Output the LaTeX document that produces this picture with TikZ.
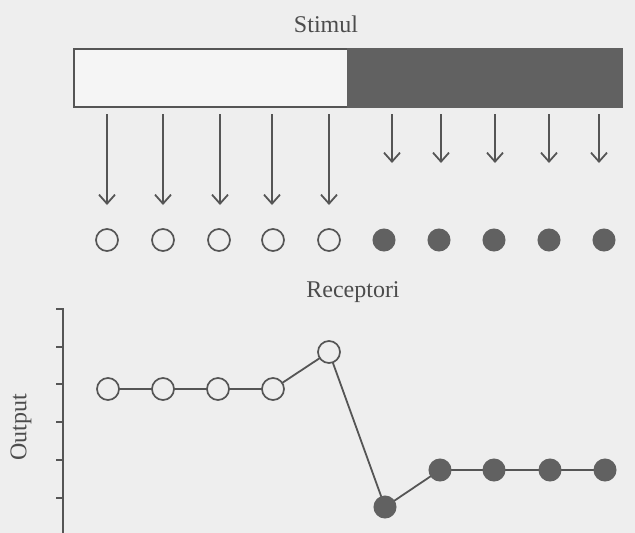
\documentclass[tikz,border=0pt]{standalone}
\usepackage{fontspec}
\setmainfont{Liberation Serif}
\usetikzlibrary{arrows.meta}
\definecolor{paper}{HTML}{EEEEEE}
\definecolor{ink}{HTML}{555555}
\definecolor{darkfill}{HTML}{616161}
\definecolor{lightfill}{HTML}{F5F5F5}
\tikzset{
  lbl/.style={text=ink!90!black, font=\fontsize{24}{28}\selectfont, inner sep=0pt},
  band/.style={draw=ink, line width=1.8pt, minimum width=274pt, minimum height=58pt, inner sep=0pt},
  openrec/.style={circle, draw=ink, fill=paper, line width=1.7pt, minimum size=22pt, inner sep=0pt},
  fullrec/.style={circle, draw=darkfill, fill=darkfill, line width=1pt, minimum size=22pt, inner sep=0pt},
  ray/.style={draw=ink, line width=1.8pt, -{Straight Barb[length=9pt,width=16pt,line width=1.8pt]}},
  trace/.style={draw=ink, line width=1.8pt},
  axisline/.style={draw=ink, line width=2pt},
}
\begin{document}
\begin{tikzpicture}[x=1pt, y=-1pt]
  % canvas
  \fill[paper] (0,0) rectangle (635,533);
  \useasboundingbox (0,0) rectangle (635,533);

  % stimulus bar
  \node[lbl] (stim) at (326,24) {Stimul};
  \node[band, fill=lightfill] (bright) at (211,78) {};
  \node[band, fill=darkfill, draw=darkfill] (dark) at (485,78) {};

  % receptor row
  \foreach \i/\x in {1/107,2/163,3/219,4/273,5/329}
    \node[openrec] (r\i) at (\x,240) {};
  \foreach \i/\x in {6/384,7/439,8/494,9/549,10/604}
    \node[fullrec] (r\i) at (\x,240) {};

  % rays from the bright half reach down to the receptors
  \foreach \i/\x in {1/107,2/163,3/220,4/272,5/329} {
    \coordinate (s\i) at (\x,114);
    \coordinate (e\i) at (\x,205);
    \draw[ray] (s\i) -- (e\i);
  }
  % shorter rays below the dark half
  \foreach \i/\x in {6/392,7/441,8/495,9/549,10/599} {
    \coordinate (s\i) at (\x,114);
    \coordinate (e\i) at (\x,163);
    \draw[ray] (s\i) -- (e\i);
  }

  \node[lbl] (rec) at (353,292) {Receptori};

  % output axis with ticks
  \coordinate (ax0) at (63,308);
  \coordinate (ax1) at (63,533);
  \draw[axisline] (ax0) -- (ax1);
  \foreach \k/\y in {1/309,2/347,3/384,4/422,5/460,6/498} {
    \coordinate (t\k) at (56,\y);
    \coordinate (u\k) at (63,\y);
    \draw[axisline, line width=1.5pt] (t\k) -- (u\k);
  }
  \node[lbl, rotate=90] (out) at (21,427) {Output};

  % response profile
  \foreach \i/\x/\y in {1/108/389,2/163/389,3/218/389,4/273/389,5/329/352}
    \coordinate (p\i) at (\x,\y);
  \foreach \i/\x/\y in {6/385/507,7/440/470,8/494/470,9/550/470,10/605/470}
    \coordinate (p\i) at (\x,\y);
  \draw[trace] (p1) -- (p2) -- (p3) -- (p4) -- (p5) -- (p6) -- (p7) -- (p8) -- (p9) -- (p10);
  \foreach \i in {1,...,5}
    \node[openrec] (g\i) at (p\i) {};
  \foreach \i in {6,...,10}
    \node[fullrec] (g\i) at (p\i) {};
\end{tikzpicture}
\end{document}
